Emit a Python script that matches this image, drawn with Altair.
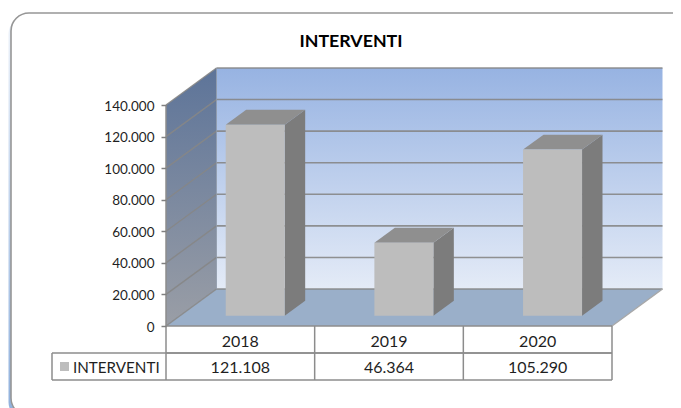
import altair as alt
import pandas as pd

# ---- chart values ----
CATEGORIES = ["2018", "2019", "2020"]
VALUES = [121108, 46364, 105290]
VALUE_LABELS = ["121.108", "46.364", "105.290"]
TICKS = [0, 20000, 40000, 60000, 80000, 100000, 120000, 140000]
SERIES = "INTERVENTI"
TITLE = "INTERVENTI"

# ---- page geometry (pixels on the page) ----
PX_LEFT, PX_RIGHT = 166.0, 612.0
PX_BASE, PX_TOP = 326.0, 105.0
DEPTH_X, DEPTH_Y = 50.5, 37.0
W, H = PX_RIGHT - PX_LEFT, PX_BASE - PX_TOP
YMAX = 140000.0
NCAT = len(CATEGORIES)
UX = W / NCAT            # px per category
UY = H / YMAX            # px per value unit


def xpx(p):
    return (p - PX_LEFT) / UX


def ypx(p):
    return (PX_BASE - p) / UY


DX, DY = DEPTH_X / UX, DEPTH_Y / UY
BAR_W = 59.0 / UX
BAR_SHIFT = 1.0 / UX
D0, D1 = 0.275, 0.68     # bar depth span, as a share of the floor depth

X_SCALE = alt.Scale(domain=[0, NCAT], nice=False, zero=False)
Y_SCALE = alt.Scale(domain=[0, YMAX], nice=False, zero=False)
Y_AXIS = alt.Axis(
    values=TICKS,
    labelExpr="replace(format(datum.value, ','), /,/g, '.')",
    labelFont="Lato", labelFontSize=13.5, labelColor="#1f1f1f",
    labelPadding=7, labelOffset=1, domain=False, grid=False, zindex=1,
    tickColor="#808080", tickSize=5, tickWidth=1.5,
)


def X(f="x", **k):
    return alt.X(f"{f}:Q", scale=X_SCALE, axis=None, title=None, **k)


def Y(f="y", **k):
    return alt.Y(f"{f}:Q", scale=Y_SCALE, axis=Y_AXIS, title=None, **k)


def vgrad(a, b):
    return alt.Gradient(
        gradient="linear", x1=0, y1=0, x2=0, y2=1,
        stops=[alt.GradientStop(offset=0, color=a), alt.GradientStop(offset=1, color=b)],
    )


def rect(x, x2, y, y2, **mk):
    d = pd.DataFrame([{"x": x, "x2": x2, "y": y, "y2": y2}])
    return alt.Chart(d).mark_rect(**mk).encode(
        x=X(), x2=alt.X2("x2"), y=Y(), y2=alt.Y2("y2"))


def vpoly(rows, **mk):
    """Parallelogram with vertical ends: rows of (x, ylow, yhigh)."""
    d = pd.DataFrame(rows, columns=["x", "y", "y2"])
    return alt.Chart(d).mark_area(**mk).encode(
        x=X(), y=Y(), y2=alt.Y2("y2"))


def hpoly(rows, **mk):
    """Parallelogram with horizontal ends: rows of (y, xleft, xright)."""
    d = pd.DataFrame(rows, columns=["y", "x", "x2"])
    return alt.Chart(d).mark_area(orient="horizontal", **mk).encode(
        y=Y(), x=X(), x2=alt.X2("x2"))


def segs(rows, **mk):
    d = pd.DataFrame(rows, columns=["x", "y", "x2", "y2"])
    return alt.Chart(d).mark_rule(**mk).encode(
        x=X(), y=Y(), x2=alt.X2("x2"), y2=alt.Y2("y2"))


def texts(rows, **mk):
    d = pd.DataFrame(rows, columns=["x", "y", "t"])
    return alt.Chart(d).mark_text(font="Lato", **mk).encode(
        x=X(), y=Y(), text="t:N")


GRID = "#868686"
layers = []

# chart frame with its soft blue edge
layers.append(rect(xpx(8.5), xpx(720), ypx(16), ypx(420),
                   fill=vgrad("#eef3fa", "#8fb0dc"), cornerRadius=18))
layers.append(rect(xpx(11), xpx(720), ypx(13), ypx(416),
                   fill="#ffffff", stroke="#969696", strokeWidth=1.6, cornerRadius=18))

# back wall, side wall, floor
layers.append(rect(DX, NCAT + DX, DY, YMAX + DY,
                   fill=vgrad("#97b3e2", "#e4ebf7")))
layers.append(vpoly([(0, 0, YMAX), (DX, DY, YMAX + DY)],
                    fill=vgrad("#5d7499", "#9a9ea6")))
layers.append(hpoly([(0, 0, NCAT), (DY, DX, NCAT + DX)], fill="#9aafc9"))

# gridlines
layers.append(segs([(DX, t + DY, NCAT + DX, t + DY) for t in TICKS],
                   color=GRID, strokeWidth=1.6, opacity=0.9))
layers.append(segs([(0, t, DX, t + DY) for t in TICKS],
                   color=GRID, strokeWidth=1.4, opacity=0.9))
layers.append(segs([(NCAT, 0, NCAT + DX, DY)], color="#a8a8a8", strokeWidth=1.4))
layers.append(segs([(DX, DY, DX, YMAX + DY)], color="#8d98a8", strokeWidth=0.8))

# 3-D bars
for i, v in enumerate(VALUES):
    x0 = i + 0.5 - BAR_W / 2 + D0 * DX + BAR_SHIFT
    x1 = x0 + BAR_W
    y0 = D0 * DY
    ddx = (D1 - D0) * DX
    ddy = (D1 - D0) * DY
    layers.append(vpoly([(x1, y0, y0 + v), (x1 + ddx, y0 + ddy, y0 + ddy + v)],
                        fill="#7c7c7c"))
    layers.append(hpoly([(y0 + v, x0, x1), (y0 + v + ddy, x0 + ddx, x1 + ddx)],
                        fill="#8f8f8f"))
    layers.append(rect(x0, x1, y0, y0 + v, fill="#bdbdbd"))

# data table
ROW = 27.0 / UY
T_LEFT = xpx(52)
table = "#8c8c8c"
rules = [(0, 0, NCAT, 0), (0, -ROW, NCAT, -ROW), (T_LEFT, -ROW, NCAT, -ROW),
         (T_LEFT, -2 * ROW, NCAT, -2 * ROW), (T_LEFT, -ROW, T_LEFT, -2 * ROW),
         (0, YMAX, 0, -2 * ROW)]
rules += [(j + 1, 0, j + 1, -2 * ROW) for j in range(NCAT)]
layers.append(segs(rules, color=table, strokeWidth=1.5))
layers.append(rect(xpx(60), xpx(69), ypx(371), ypx(362), fill="#bdbdbd"))

layers.append(texts([(i + 0.5, -ROW * 0.5, c) for i, c in enumerate(CATEGORIES)],
                    fontSize=16, dy=2, color="#1f1f1f", align="center", baseline="middle"))
layers.append(texts([(i + 0.5, -ROW * 1.5, c) for i, c in enumerate(VALUE_LABELS)],
                    fontSize=16, dy=1.5, color="#1f1f1f", align="center", baseline="middle"))
layers.append(texts([(xpx(73), -ROW * 1.5, SERIES)],
                    fontSize=15.2, dy=1.5, color="#1f1f1f", align="left", baseline="middle"))
layers.append(texts([(xpx(351), ypx(42), TITLE)],
                    fontSize=17.8, fontWeight="bold", color="#000000",
                    align="center", baseline="middle"))

PAGE_W, PAGE_H = 665, 400
pad_l = PX_LEFT - 8
pad_t = PX_TOP - 8
chart = alt.layer(*layers).properties(
    width=W, height=H,
    padding={"left": pad_l, "top": pad_t,
             "right": PAGE_W - pad_l - W, "bottom": PAGE_H - pad_t - H},
    autosize=alt.AutoSizeParams(type="none"),
    background="#ffffff",
).configure_view(stroke=None)

chart.save("out.html", embed_options={"renderer": "svg", "actions": False})
